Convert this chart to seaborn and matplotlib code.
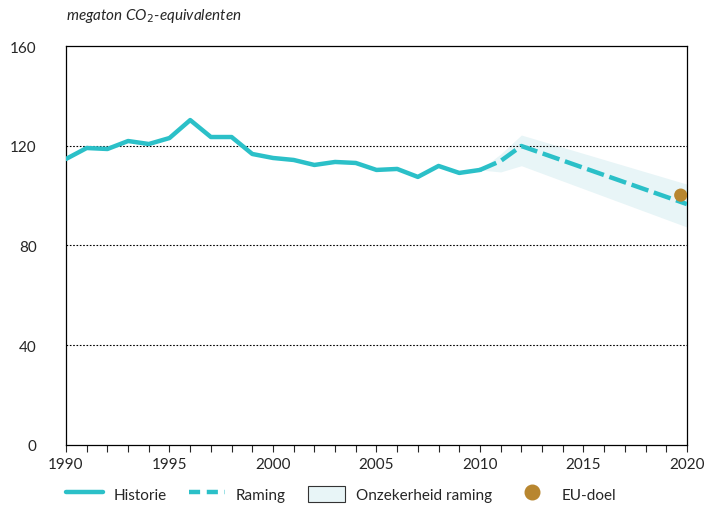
import seaborn as sns
import pandas as pd
import numpy as np
import matplotlib.pyplot as plt
from matplotlib.ticker import MultipleLocator
from matplotlib.lines import Line2D
from matplotlib.patches import Patch

# historical emissions (megaton CO2-eq)
hist_years = [1990, 1991, 1992, 1993, 1994, 1995, 1996, 1997, 1998, 1999, 2000,
              2001, 2002, 2003, 2004, 2005, 2006, 2007, 2008, 2009, 2010]
hist_values = [114.7, 119.1, 118.7, 121.9, 120.7, 123.1, 130.3, 123.5, 123.5, 116.7, 115.1,
               114.3, 112.3, 113.5, 113.1, 110.3, 110.7, 107.5, 111.9, 109.1, 110.3]

# projection
proj_years = [2010, 2011, 2012, 2020]
proj_values = [110.3, 113.9, 119.9, 96.6]

# uncertainty band of the projection
band_years = [2010, 2011, 2012, 2020]
band_low = [110.3, 109.5, 112.0, 87.4]
band_high = [110.3, 116.7, 124.3, 104.6]

# EU target
eu_year = [2019.7]
eu_value = [100.2]

line_color = '#2bc0c8'
band_color = '#e8f5f7'
dot_color = '#b8862f'

sns.set_style('white')
plt.rcParams['font.family'] = ['Lato', 'DejaVu Sans']

fig = plt.figure(figsize=(7.06, 5.06), dpi=100)
ax = fig.add_axes([0.0935, 0.1186, 0.8795, 0.7885])

hist_df = pd.DataFrame({'jaar': hist_years, 'waarde': hist_values})
proj_df = pd.DataFrame({'jaar': proj_years, 'waarde': proj_values})

ax.fill_between(band_years, band_low, band_high, color=band_color, lw=0, zorder=1)
sns.lineplot(data=hist_df, x='jaar', y='waarde', ax=ax, color=line_color, lw=3.2, zorder=3)
sns.lineplot(data=proj_df, x='jaar', y='waarde', ax=ax, color=line_color, lw=3.2,
             dashes=False, zorder=3).lines[-1].set_dashes((4, 1.3))
sns.scatterplot(x=eu_year, y=eu_value, ax=ax, color=dot_color, s=90, edgecolor='none', zorder=4)

for v in [40, 80, 120]:
    ax.axhline(v, color='black', lw=0.8, ls=(0, (1.5, 1.5)), zorder=2)

ax.set_xlim(1990, 2020)
ax.set_ylim(0, 160)
ax.xaxis.set_major_locator(MultipleLocator(5))
ax.xaxis.set_minor_locator(MultipleLocator(1))
ax.yaxis.set_major_locator(MultipleLocator(40))
ax.tick_params(axis='x', which='both', direction='out', length=5, width=0.8, bottom=True, labelsize=11, pad=4)
ax.tick_params(axis='y', length=0, labelsize=11, pad=21)
ax.set_xlabel('')
ax.set_ylabel('')
for s in ax.spines.values():
    s.set_color('black')
    s.set_linewidth(0.9)

fig.text(0.0935, 0.968, 'megaton CO$_2$-equivalenten', fontsize=11, style='italic', ha='left', va='center')

handles = [
    Line2D([], [], color=line_color, lw=3.2),
    Line2D([], [], color=line_color, lw=3.2, dashes=(2.5, 1.5)),
    Patch(facecolor=band_color, edgecolor='#333333', lw=0.8),
    Line2D([], [], marker='o', color=dot_color, ls='', markersize=10.5),
]
labels = ['Historie', 'Raming', 'Onzekerheid raming', 'EU-doel']
fig.legend(handles, labels, loc='center left', bbox_to_anchor=(0.0935, 0.022), ncol=4, frameon=False,
           fontsize=11, handlelength=2.4, handleheight=1.2, columnspacing=1.45, handletextpad=0.7,
           borderaxespad=0, borderpad=0)

fig.savefig('out.png', dpi=100)
